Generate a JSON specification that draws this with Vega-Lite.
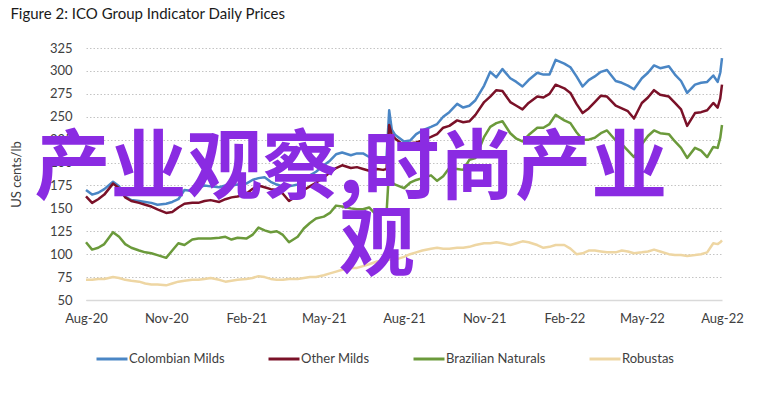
{
  "$schema": "https://vega.github.io/schema/vega-lite/v6.json",
  "width": 636,
  "height": 252,
  "autosize": {"type": "none"},
  "padding": {"left": 86, "top": 48, "right": 36, "bottom": 93},
  "background": "white",
  "title": {"text": "Figure 2: ICO Group Indicator Daily Prices", "anchor": "start", "frame": "bounds", "font": "Lato", "fontSize": 15, "fontWeight": "normal", "color": "#1a1a1a", "offset": 20},
  "datasets": {
    "prices": [
      {"date": "2020-08-01", "Colombian Milds": 170, "Other Milds": 163, "Brazilian Naturals": 113, "Robustas": 72},
      {"date": "2020-08-08", "Colombian Milds": 165, "Other Milds": 156, "Brazilian Naturals": 105, "Robustas": 72},
      {"date": "2020-08-15", "Colombian Milds": 167, "Other Milds": 160, "Brazilian Naturals": 107, "Robustas": 73},
      {"date": "2020-08-22", "Colombian Milds": 171, "Other Milds": 165, "Brazilian Naturals": 111, "Robustas": 73},
      {"date": "2020-09-01", "Colombian Milds": 179, "Other Milds": 177, "Brazilian Naturals": 124, "Robustas": 75},
      {"date": "2020-09-08", "Colombian Milds": 174, "Other Milds": 172, "Brazilian Naturals": 119, "Robustas": 74},
      {"date": "2020-09-15", "Colombian Milds": 163, "Other Milds": 162, "Brazilian Naturals": 111, "Robustas": 72},
      {"date": "2020-09-22", "Colombian Milds": 159, "Other Milds": 158, "Brazilian Naturals": 107, "Robustas": 71},
      {"date": "2020-10-01", "Colombian Milds": 158, "Other Milds": 156, "Brazilian Naturals": 104, "Robustas": 70},
      {"date": "2020-10-08", "Colombian Milds": 157, "Other Milds": 154, "Brazilian Naturals": 102, "Robustas": 68},
      {"date": "2020-10-15", "Colombian Milds": 156, "Other Milds": 152, "Brazilian Naturals": 101, "Robustas": 67},
      {"date": "2020-10-22", "Colombian Milds": 154, "Other Milds": 149, "Brazilian Naturals": 99, "Robustas": 67},
      {"date": "2020-11-01", "Colombian Milds": 155, "Other Milds": 145, "Brazilian Naturals": 96, "Robustas": 66},
      {"date": "2020-11-08", "Colombian Milds": 157, "Other Milds": 146, "Brazilian Naturals": 104, "Robustas": 68},
      {"date": "2020-11-15", "Colombian Milds": 160, "Other Milds": 151, "Brazilian Naturals": 112, "Robustas": 70},
      {"date": "2020-11-22", "Colombian Milds": 170, "Other Milds": 155, "Brazilian Naturals": 110, "Robustas": 71},
      {"date": "2020-12-01", "Colombian Milds": 169, "Other Milds": 156, "Brazilian Naturals": 116, "Robustas": 72},
      {"date": "2020-12-08", "Colombian Milds": 172, "Other Milds": 156, "Brazilian Naturals": 117, "Robustas": 72},
      {"date": "2020-12-15", "Colombian Milds": 175, "Other Milds": 158, "Brazilian Naturals": 117, "Robustas": 73},
      {"date": "2020-12-22", "Colombian Milds": 174, "Other Milds": 159, "Brazilian Naturals": 117, "Robustas": 74},
      {"date": "2021-01-01", "Colombian Milds": 173, "Other Milds": 157, "Brazilian Naturals": 118, "Robustas": 72},
      {"date": "2021-01-08", "Colombian Milds": 175, "Other Milds": 160, "Brazilian Naturals": 119, "Robustas": 70},
      {"date": "2021-01-15", "Colombian Milds": 175, "Other Milds": 162, "Brazilian Naturals": 116, "Robustas": 71},
      {"date": "2021-01-22", "Colombian Milds": 176, "Other Milds": 163, "Brazilian Naturals": 118, "Robustas": 72},
      {"date": "2021-02-01", "Colombian Milds": 177, "Other Milds": 166, "Brazilian Naturals": 117, "Robustas": 73},
      {"date": "2021-02-08", "Colombian Milds": 181, "Other Milds": 171, "Brazilian Naturals": 121, "Robustas": 74},
      {"date": "2021-02-15", "Colombian Milds": 183, "Other Milds": 175, "Brazilian Naturals": 129, "Robustas": 76},
      {"date": "2021-02-22", "Colombian Milds": 184, "Other Milds": 173, "Brazilian Naturals": 126, "Robustas": 75},
      {"date": "2021-03-01", "Colombian Milds": 179, "Other Milds": 171, "Brazilian Naturals": 124, "Robustas": 73},
      {"date": "2021-03-08", "Colombian Milds": 176, "Other Milds": 170, "Brazilian Naturals": 125, "Robustas": 72},
      {"date": "2021-03-15", "Colombian Milds": 174, "Other Milds": 166, "Brazilian Naturals": 121, "Robustas": 72},
      {"date": "2021-03-22", "Colombian Milds": 174, "Other Milds": 158, "Brazilian Naturals": 113, "Robustas": 73},
      {"date": "2021-04-01", "Colombian Milds": 176, "Other Milds": 164, "Brazilian Naturals": 119, "Robustas": 73},
      {"date": "2021-04-08", "Colombian Milds": 182, "Other Milds": 170, "Brazilian Naturals": 128, "Robustas": 74},
      {"date": "2021-04-15", "Colombian Milds": 186, "Other Milds": 174, "Brazilian Naturals": 134, "Robustas": 75},
      {"date": "2021-04-22", "Colombian Milds": 190, "Other Milds": 178, "Brazilian Naturals": 139, "Robustas": 75},
      {"date": "2021-05-01", "Colombian Milds": 197, "Other Milds": 184, "Brazilian Naturals": 141, "Robustas": 77},
      {"date": "2021-05-08", "Colombian Milds": 202, "Other Milds": 189, "Brazilian Naturals": 145, "Robustas": 79},
      {"date": "2021-05-15", "Colombian Milds": 209, "Other Milds": 194, "Brazilian Naturals": 153, "Robustas": 81},
      {"date": "2021-05-22", "Colombian Milds": 211, "Other Milds": 197, "Brazilian Naturals": 152, "Robustas": 83},
      {"date": "2021-06-01", "Colombian Milds": 208, "Other Milds": 194, "Brazilian Naturals": 150, "Robustas": 85},
      {"date": "2021-06-08", "Colombian Milds": 210, "Other Milds": 195, "Brazilian Naturals": 149, "Robustas": 85},
      {"date": "2021-06-15", "Colombian Milds": 210, "Other Milds": 193, "Brazilian Naturals": 149, "Robustas": 87},
      {"date": "2021-06-22", "Colombian Milds": 206, "Other Milds": 191, "Brazilian Naturals": 151, "Robustas": 89},
      {"date": "2021-07-01", "Colombian Milds": 206, "Other Milds": 193, "Brazilian Naturals": 142, "Robustas": 92},
      {"date": "2021-07-08", "Colombian Milds": 205, "Other Milds": 192, "Brazilian Naturals": 148, "Robustas": 93},
      {"date": "2021-07-12", "Colombian Milds": 206, "Other Milds": 193, "Brazilian Naturals": 145, "Robustas": 93},
      {"date": "2021-07-15", "Colombian Milds": 257, "Other Milds": 241, "Brazilian Naturals": 195, "Robustas": 94},
      {"date": "2021-07-18", "Colombian Milds": 236, "Other Milds": 230, "Brazilian Naturals": 178, "Robustas": 94},
      {"date": "2021-07-22", "Colombian Milds": 230, "Other Milds": 226, "Brazilian Naturals": 176, "Robustas": 94},
      {"date": "2021-08-01", "Colombian Milds": 223, "Other Milds": 219, "Brazilian Naturals": 172, "Robustas": 97},
      {"date": "2021-08-08", "Colombian Milds": 224, "Other Milds": 221, "Brazilian Naturals": 178, "Robustas": 100},
      {"date": "2021-08-15", "Colombian Milds": 231, "Other Milds": 222, "Brazilian Naturals": 181, "Robustas": 102},
      {"date": "2021-08-22", "Colombian Milds": 235, "Other Milds": 224, "Brazilian Naturals": 183, "Robustas": 104},
      {"date": "2021-09-01", "Colombian Milds": 239, "Other Milds": 228, "Brazilian Naturals": 186, "Robustas": 106},
      {"date": "2021-09-08", "Colombian Milds": 242, "Other Milds": 231, "Brazilian Naturals": 180, "Robustas": 107},
      {"date": "2021-09-15", "Colombian Milds": 250, "Other Milds": 238, "Brazilian Naturals": 185, "Robustas": 106},
      {"date": "2021-09-22", "Colombian Milds": 255, "Other Milds": 240, "Brazilian Naturals": 194, "Robustas": 106},
      {"date": "2021-10-01", "Colombian Milds": 264, "Other Milds": 246, "Brazilian Naturals": 193, "Robustas": 107},
      {"date": "2021-10-08", "Colombian Milds": 260, "Other Milds": 244, "Brazilian Naturals": 192, "Robustas": 107},
      {"date": "2021-10-15", "Colombian Milds": 262, "Other Milds": 245, "Brazilian Naturals": 203, "Robustas": 108},
      {"date": "2021-10-22", "Colombian Milds": 268, "Other Milds": 252, "Brazilian Naturals": 205, "Robustas": 110},
      {"date": "2021-11-01", "Colombian Milds": 284, "Other Milds": 266, "Brazilian Naturals": 228, "Robustas": 112},
      {"date": "2021-11-08", "Colombian Milds": 299, "Other Milds": 272, "Brazilian Naturals": 239, "Robustas": 112},
      {"date": "2021-11-15", "Colombian Milds": 293, "Other Milds": 279, "Brazilian Naturals": 243, "Robustas": 113},
      {"date": "2021-11-22", "Colombian Milds": 302, "Other Milds": 278, "Brazilian Naturals": 245, "Robustas": 112},
      {"date": "2021-12-01", "Colombian Milds": 292, "Other Milds": 266, "Brazilian Naturals": 232, "Robustas": 110},
      {"date": "2021-12-08", "Colombian Milds": 288, "Other Milds": 262, "Brazilian Naturals": 226, "Robustas": 112},
      {"date": "2021-12-15", "Colombian Milds": 283, "Other Milds": 258, "Brazilian Naturals": 223, "Robustas": 114},
      {"date": "2021-12-22", "Colombian Milds": 290, "Other Milds": 265, "Brazilian Naturals": 230, "Robustas": 113},
      {"date": "2022-01-01", "Colombian Milds": 298, "Other Milds": 272, "Brazilian Naturals": 238, "Robustas": 110},
      {"date": "2022-01-08", "Colombian Milds": 296, "Other Milds": 271, "Brazilian Naturals": 238, "Robustas": 107},
      {"date": "2022-01-15", "Colombian Milds": 296, "Other Milds": 275, "Brazilian Naturals": 242, "Robustas": 108},
      {"date": "2022-01-22", "Colombian Milds": 312, "Other Milds": 285, "Brazilian Naturals": 252, "Robustas": 110},
      {"date": "2022-02-01", "Colombian Milds": 308, "Other Milds": 281, "Brazilian Naturals": 246, "Robustas": 110},
      {"date": "2022-02-08", "Colombian Milds": 304, "Other Milds": 276, "Brazilian Naturals": 243, "Robustas": 106},
      {"date": "2022-02-15", "Colombian Milds": 294, "Other Milds": 264, "Brazilian Naturals": 233, "Robustas": 100},
      {"date": "2022-02-22", "Colombian Milds": 283, "Other Milds": 254, "Brazilian Naturals": 225, "Robustas": 101},
      {"date": "2022-03-01", "Colombian Milds": 290, "Other Milds": 259, "Brazilian Naturals": 225, "Robustas": 104},
      {"date": "2022-03-08", "Colombian Milds": 294, "Other Milds": 266, "Brazilian Naturals": 227, "Robustas": 104},
      {"date": "2022-03-15", "Colombian Milds": 299, "Other Milds": 273, "Brazilian Naturals": 232, "Robustas": 103},
      {"date": "2022-03-22", "Colombian Milds": 301, "Other Milds": 272, "Brazilian Naturals": 235, "Robustas": 102},
      {"date": "2022-04-01", "Colombian Milds": 289, "Other Milds": 262, "Brazilian Naturals": 224, "Robustas": 102},
      {"date": "2022-04-08", "Colombian Milds": 287, "Other Milds": 259, "Brazilian Naturals": 220, "Robustas": 104},
      {"date": "2022-04-15", "Colombian Milds": 284, "Other Milds": 256, "Brazilian Naturals": 213, "Robustas": 103},
      {"date": "2022-04-22", "Colombian Milds": 280, "Other Milds": 248, "Brazilian Naturals": 206, "Robustas": 101},
      {"date": "2022-05-01", "Colombian Milds": 292, "Other Milds": 265, "Brazilian Naturals": 220, "Robustas": 102},
      {"date": "2022-05-08", "Colombian Milds": 298, "Other Milds": 271, "Brazilian Naturals": 229, "Robustas": 103},
      {"date": "2022-05-15", "Colombian Milds": 306, "Other Milds": 279, "Brazilian Naturals": 235, "Robustas": 105},
      {"date": "2022-05-22", "Colombian Milds": 303, "Other Milds": 274, "Brazilian Naturals": 232, "Robustas": 103},
      {"date": "2022-06-01", "Colombian Milds": 305, "Other Milds": 272, "Brazilian Naturals": 231, "Robustas": 100},
      {"date": "2022-06-08", "Colombian Milds": 296, "Other Milds": 265, "Brazilian Naturals": 223, "Robustas": 99},
      {"date": "2022-06-15", "Colombian Milds": 289, "Other Milds": 258, "Brazilian Naturals": 216, "Robustas": 99},
      {"date": "2022-06-22", "Colombian Milds": 276, "Other Milds": 240, "Brazilian Naturals": 205, "Robustas": 98},
      {"date": "2022-07-01", "Colombian Milds": 285, "Other Milds": 254, "Brazilian Naturals": 216, "Robustas": 99},
      {"date": "2022-07-08", "Colombian Milds": 287, "Other Milds": 255, "Brazilian Naturals": 213, "Robustas": 100},
      {"date": "2022-07-15", "Colombian Milds": 288, "Other Milds": 257, "Brazilian Naturals": 206, "Robustas": 102},
      {"date": "2022-07-22", "Colombian Milds": 295, "Other Milds": 265, "Brazilian Naturals": 217, "Robustas": 112},
      {"date": "2022-07-27", "Colombian Milds": 288, "Other Milds": 260, "Brazilian Naturals": 216, "Robustas": 111},
      {"date": "2022-07-30", "Colombian Milds": 298, "Other Milds": 270, "Brazilian Naturals": 227, "Robustas": 113},
      {"date": "2022-08-01", "Colombian Milds": 314, "Other Milds": 285, "Brazilian Naturals": 241, "Robustas": 115}
    ],
    "overlay": [
      {"label": "产业观察,时尚产业", "date": "2021-06-01", "price": 191.5},
      {"label": "观", "date": "2021-07-01", "price": 108}
    ]
  },
  "encoding": {
    "x": {
      "field": "date", "type": "temporal",
      "scale": {"type": "utc", "domain": ["2020-08-01", "2022-08-01"], "nice": false},
      "axis": {
        "title": null,
        "values": [
          {"year": 2020, "month": 8, "date": 1, "utc": true},
          {"year": 2020, "month": 11, "date": 1, "utc": true},
          {"year": 2021, "month": 2, "date": 1, "utc": true},
          {"year": 2021, "month": 5, "date": 1, "utc": true},
          {"year": 2021, "month": 8, "date": 1, "utc": true},
          {"year": 2021, "month": 11, "date": 1, "utc": true},
          {"year": 2022, "month": 2, "date": 1, "utc": true},
          {"year": 2022, "month": 5, "date": 1, "utc": true},
          {"year": 2022, "month": 8, "date": 1, "utc": true}
        ],
        "format": "%b-%y",
        "labelFlush": false,
        "labelOverlap": false,
        "labelPadding": 12,
        "domain": true,
        "domainColor": "#d9d9d9",
        "domainWidth": 1.5,
        "grid": false
      }
    },
    "y": {
      "field": "price", "type": "quantitative",
      "scale": {"domain": [50, 325], "nice": false, "zero": false},
      "axis": {
        "title": "US cents/lb",
        "values": [50, 75, 100, 125, 150, 175, 200, 225, 250, 275, 300, 325],
        "labelOverlap": false,
        "labelFlush": false,
        "grid": true,
        "gridDash": [1.5, 2],
        "gridColor": "#c4c4c4",
        "gridWidth": 1,
        "labelPadding": 14,
        "titlePadding": 26
      }
    }
  },
  "layer": [
    {
      "data": {"name": "prices"},
      "transform": [{"fold": ["Colombian Milds", "Other Milds", "Brazilian Naturals", "Robustas"], "as": ["series", "price"]}],
      "mark": {"type": "line", "strokeWidth": 2.5, "strokeJoin": "round", "clip": false},
      "encoding": {
        "color": {
          "field": "series", "type": "nominal",
          "scale": {"domain": ["Colombian Milds", "Other Milds", "Brazilian Naturals", "Robustas"], "range": ["#4a86c5", "#7a1128", "#6b9a3b", "#eed6a3"]},
          "legend": {"title": null}
        }
      }
    },
    {
      "data": {"name": "overlay"},
      "mark": {"type": "text", "font": "Noto Sans CJK SC", "fontWeight": "bold", "fontSize": 76, "color": "#8a2be2", "align": "center", "baseline": "middle", "clip": false},
      "encoding": {
        "text": {"field": "label", "type": "nominal"}
      }
    }
  ],
  "config": {
    "font": "Lato",
    "view": {"stroke": null},
    "axis": {
      "labelFont": "Lato", "labelFontSize": 13, "labelColor": "#404040",
      "titleFont": "Lato", "titleFontSize": 13, "titleColor": "#404040", "titleFontWeight": "normal",
      "ticks": false, "domain": false, "grid": false
    },
    "legend": {
      "orient": "bottom", "direction": "horizontal",
      "symbolType": "stroke", "symbolSize": 961, "symbolStrokeWidth": 3,
      "labelFont": "Lato", "labelFontSize": 13, "labelColor": "#404040",
      "labelOffset": 0, "columnPadding": 37, "offset": 8, "padding": 9
    }
  }
}
